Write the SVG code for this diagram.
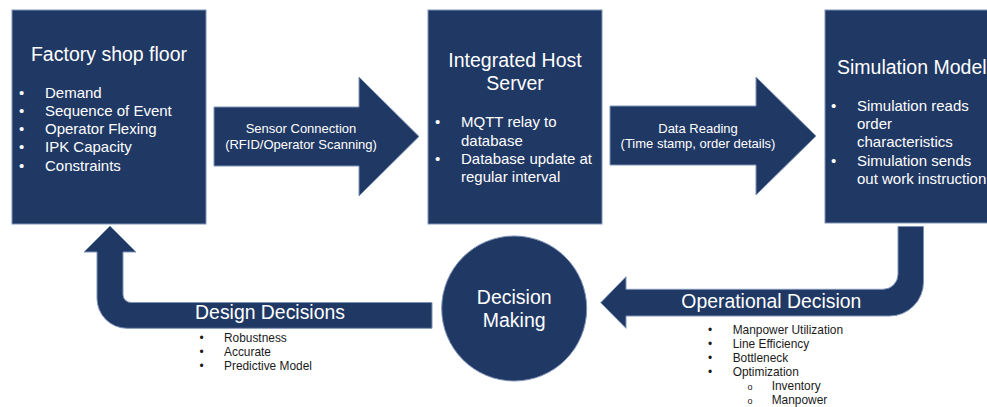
<svg xmlns="http://www.w3.org/2000/svg" width="987" height="407" viewBox="0 0 987 407">
  <style>
    .shape { fill: #203864; stroke: #7f93b8; stroke-width: 1; }
    text { font-family: "Liberation Sans", Arial, sans-serif; }
    .title { fill: #ffffff; font-size: 19.5px; }
    .item { fill: #ffffff; font-size: 15px; }
    .flow { fill: #ffffff; font-size: 13px; text-anchor: middle; }
    .band { fill: #ffffff; font-size: 19.4px; text-anchor: middle; }
    .note { fill: #1a1a1a; font-size: 11.9px; }
    .mid { text-anchor: middle; }
  </style>
  <rect width="987" height="407" fill="#ffffff"/>

  <!-- connectors -->
  <g id="connectors">
    <g id="sensor-connection">
      <polygon class="shape" points="214,107 359,107 359,77 419,136.5 359,196 359,166 214,166"/>
      <text class="flow" x="301" y="133">Sensor Connection</text>
      <text class="flow" x="301" y="149">(RFID/Operator Scanning)</text>
    </g>
    <g id="data-reading">
      <polygon class="shape" points="610,106 756,106 756,77 816,136 756,195 756,165 610,165"/>
      <text class="flow" x="698" y="132.5">Data Reading</text>
      <text class="flow" x="698" y="148">(Time stamp, order details)</text>
    </g>
    <g id="operational-decision">
      <path class="shape" d="M898,226.5 L923.5,226.5 L923.5,282 A34,34 0 0 1 889.5,316 L626,316 L626,328.3 L600.7,302.7 L626,276.7 L626,289.3 L883,289.3 A15,15 0 0 0 898,274.3 Z"/>
      <text class="band" x="771.3" y="308.3">Operational Decision</text>
      <g class="note">
        <text x="708" y="333.5">•</text><text x="732.7" y="333.5">Manpower Utilization</text>
        <text x="708" y="347.7">•</text><text x="732.7" y="347.7">Line Efficiency</text>
        <text x="708" y="361.8">•</text><text x="732.7" y="361.8">Bottleneck</text>
        <text x="708" y="375.9">•</text><text x="732.7" y="375.9">Optimization</text>
        <text x="747.5" y="390" font-size="9">o</text><text x="771.7" y="390">Inventory</text>
        <text x="747.5" y="404" font-size="9">o</text><text x="771.7" y="404">Manpower</text>
      </g>
    </g>
    <g id="design-decisions">
      <path class="shape" d="M432,302.5 L432,328.3 L127,328.3 A30,30 0 0 1 97,298.3 L97,252 L84,252 L110,226 L136,252 L123,252 L123,294.5 A8,8 0 0 0 131,302.5 Z"/>
      <text class="band" x="270" y="319.3">Design Decisions</text>
      <g class="note">
        <text x="199.5" y="341.5">•</text><text x="224" y="341.5">Robustness</text>
        <text x="199.5" y="355.7">•</text><text x="224" y="355.7">Accurate</text>
        <text x="199.5" y="369.9">•</text><text x="224" y="369.9">Predictive Model</text>
      </g>
    </g>
  </g>

  <!-- nodes -->
  <g id="factory-shop-floor">
    <rect class="shape" x="12" y="10" width="194" height="214"/>
    <text class="title mid" x="109" y="61">Factory shop floor</text>
    <g class="item">
      <text x="19" y="97.5">•</text><text x="45" y="97.5">Demand</text>
      <text x="19" y="115.8">•</text><text x="45" y="115.8">Sequence of Event</text>
      <text x="19" y="134.1">•</text><text x="45" y="134.1">Operator Flexing</text>
      <text x="19" y="152.4">•</text><text x="45" y="152.4">IPK Capacity</text>
      <text x="19" y="170.7">•</text><text x="45" y="170.7">Constraints</text>
    </g>
  </g>

  <g id="integrated-host-server">
    <rect class="shape" x="428" y="10" width="174" height="214"/>
    <text class="title mid" x="515" y="67.3">Integrated Host</text>
    <text class="title mid" x="515" y="90">Server</text>
    <g class="item">
      <text x="435" y="127.4">•</text><text x="461" y="127.4">MQTT relay to</text>
      <text x="461" y="145.7">database</text>
      <text x="435" y="164">•</text><text x="461" y="164">Database update at</text>
      <text x="461" y="182.3">regular interval</text>
    </g>
  </g>

  <g id="simulation-model">
    <rect class="shape" x="825" y="10" width="200" height="213"/>
    <text class="title" x="837" y="74">Simulation Model</text>
    <g class="item">
      <text x="831" y="110.7">•</text><text x="857" y="110.7">Simulation reads</text>
      <text x="857" y="129">order</text>
      <text x="857" y="147.3">characteristics</text>
      <text x="831" y="165.6">•</text><text x="857" y="165.6">Simulation sends</text>
      <text x="857" y="184">out work instruction</text>
    </g>
  </g>

  <g id="decision-making">
    <circle class="shape" cx="514.2" cy="308.5" r="72.5"/>
    <text class="title mid" x="514.2" y="304" font-size="19.2">Decision</text>
    <text class="title mid" x="514.2" y="327.3" font-size="19.2">Making</text>
  </g>
</svg>
